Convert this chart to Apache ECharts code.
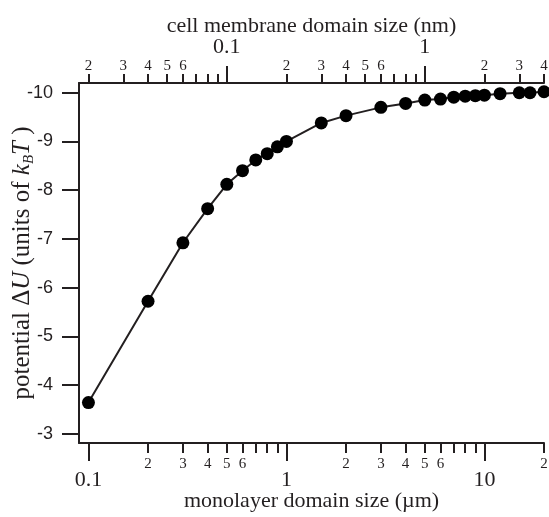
<!DOCTYPE html>
<html>
<head>
<meta charset="utf-8">
<script src="https://cdn.jsdelivr.net/npm/echarts@6/dist/echarts.min.js"></script>
<style>
  html, body { margin: 0; padding: 0; background: #fff; }
  #chart { width: 549px; height: 517px; }
</style>
</head>
<body>
<div id="chart"></div>
<script>
// monolayer domain size (um) and potential (kBT)
const sizeUm = [0.1, 0.2, 0.3, 0.4, 0.5, 0.6, 0.7, 0.8, 0.9, 1, 1.5, 2, 3, 4, 5, 6, 7, 8, 9, 10, 12, 15, 17, 20];
const potential = [-3.64, -5.72, -6.92, -7.62, -8.12, -8.40, -8.62, -8.75, -8.89, -9.00, -9.38, -9.53, -9.70, -9.78, -9.85, -9.87, -9.91, -9.93, -9.94, -9.95, -9.98, -10.0, -10.0, -10.02];

// axis ranges and ticks
const xRangeUm = [0.0896, 20];
const nmPerUm = 0.2;
const bottomMajor = [0.1, 1, 10];
const bottomMinor = [0.2, 0.3, 0.4, 0.5, 0.6, 0.7, 0.8, 0.9, 2, 3, 4, 5, 6, 7, 8, 9, 20];
const bottomMinorLabels = [0.2, 0.3, 0.4, 0.5, 0.6, 2, 3, 4, 5, 6, 20];
const topMajor = [0.1, 1];
const topMinor = [0.02, 0.03, 0.04, 0.05, 0.06, 0.07, 0.08, 0.09, 0.2, 0.3, 0.4, 0.5, 0.6, 0.7, 0.8, 0.9, 2, 3, 4];
const topMinorLabels = [0.02, 0.03, 0.04, 0.05, 0.06, 0.2, 0.3, 0.4, 0.5, 0.6, 2, 3, 4];
const yRange = [-10.2, -2.81];
const yTicks = [-10, -9, -8, -7, -6, -5, -4, -3];

const ink = '#231f20';
const serif = '"Liberation Serif", "Times New Roman", serif';
const sans = '"Liberation Sans", Arial, sans-serif';

const lg = v => Math.log10(v);
const unlog = v => Math.pow(10, v);
const majorText = v => {
    const x = unlog(v);
    return x >= 1 ? String(Math.round(x)) : String(Number(x.toPrecision(2)));
};
const leadDigit = v => {
    const x = unlog(v);
    const p = Math.pow(10, Math.floor(Math.log10(x) + 1e-9));
    return String(Math.round(x / p));
};

function xAxisDef(opts) {
    return Object.assign({
        type: 'value',
        min: opts.nm ? lg(xRangeUm[0] * nmPerUm) : lg(xRangeUm[0]),
        max: opts.nm ? lg(xRangeUm[1] * nmPerUm) : lg(xRangeUm[1]),
        splitLine: { show: false },
        nameMoveOverlap: false,
        axisLine: { show: false, lineStyle: { color: ink, width: 2 } },
    }, opts.axis);
}

const option = {
    animation: false,
    backgroundColor: '#fff',
    grid: { left: 79, right: 5, top: 83, bottom: 74, outerBoundsMode: 'none' },
    xAxis: [
        // bottom, major ticks + data
        xAxisDef({ axis: {
            position: 'bottom',
            axisLine: { show: true, onZero: false, lineStyle: { color: ink, width: 2 } },
            axisTick: { show: true, length: 18, lineStyle: { color: ink, width: 2 }, customValues: bottomMajor.map(lg) },
            axisLabel: { customValues: bottomMajor.map(lg), formatter: majorText, margin: 26, fontFamily: serif, fontSize: 22, color: ink },
            name: 'monolayer domain size (\u00b5m)',
            nameLocation: 'middle',
            nameGap: 47,
            nameTextStyle: { fontFamily: serif, fontSize: 22, color: ink }
        } }),
        // bottom, minor ticks
        xAxisDef({ axis: {
            position: 'bottom',
            axisTick: { show: true, length: 10, lineStyle: { color: ink, width: 2 }, customValues: bottomMinor.map(lg) },
            axisLabel: { customValues: bottomMinorLabels.map(lg), formatter: leadDigit, margin: 14, fontFamily: serif, fontSize: 15, color: ink }
        } }),
        // top, major ticks (nm)
        xAxisDef({ nm: true, axis: {
            position: 'top',
            axisLine: { show: true, onZero: false, lineStyle: { color: ink, width: 2 } },
            axisTick: { show: true, length: 17, lineStyle: { color: ink, width: 2 }, customValues: topMajor.map(lg) },
            axisLabel: { customValues: topMajor.map(lg), formatter: majorText, margin: 25, fontFamily: serif, fontSize: 22, color: ink },
            name: 'cell membrane domain size (nm)',
            nameLocation: 'middle',
            nameGap: 46,
            nameTextStyle: { fontFamily: serif, fontSize: 22, color: ink }
        } }),
        // top, minor ticks (nm)
        xAxisDef({ nm: true, axis: {
            position: 'top',
            axisTick: { show: true, length: 9, lineStyle: { color: ink, width: 2 }, customValues: topMinor.map(lg) },
            axisLabel: { customValues: topMinorLabels.map(lg), formatter: leadDigit, margin: 9, fontFamily: serif, fontSize: 15, color: ink }
        } })
    ],
    yAxis: {
        type: 'value',
        inverse: true,
        min: yRange[0],
        max: yRange[1],
        splitLine: { show: false },
        axisLine: { show: true, onZero: false, lineStyle: { color: ink, width: 2 } },
        axisTick: { show: true, length: 17, lineStyle: { color: ink, width: 2 }, customValues: yTicks },
        axisLabel: { customValues: yTicks, margin: 26, fontFamily: sans, fontSize: 18, color: ink },
        name: 'potential \u0394{i|U} (units of {i|k}{sub|B}{i|T} )',
        nameLocation: 'middle',
        nameRotate: 90,
        nameGap: 42,
        nameMoveOverlap: false,
        nameTextStyle: {
            fontFamily: serif, fontSize: 25, color: ink, lineHeight: 30,
            rich: {
                i: { fontFamily: serif, fontSize: 25, fontStyle: 'italic', color: ink },
                sub: { fontFamily: serif, fontSize: 15, fontStyle: 'italic', color: ink, verticalAlign: 'bottom', lineHeight: 16 }
            }
        }
    },
    series: [{
        type: 'line',
        xAxisIndex: 0,
        yAxisIndex: 0,
        data: sizeUm.map((s, i) => [lg(s), potential[i]]),
        symbol: 'circle',
        symbolSize: 13,
        clip: false,
        lineStyle: { color: ink, width: 2 },
        itemStyle: { color: '#000' },
        emphasis: { disabled: true }
    }]
};

const chart = echarts.init(document.getElementById('chart'), null, { renderer: 'canvas' });
chart.setOption(option);
</script>
</body>
</html>
